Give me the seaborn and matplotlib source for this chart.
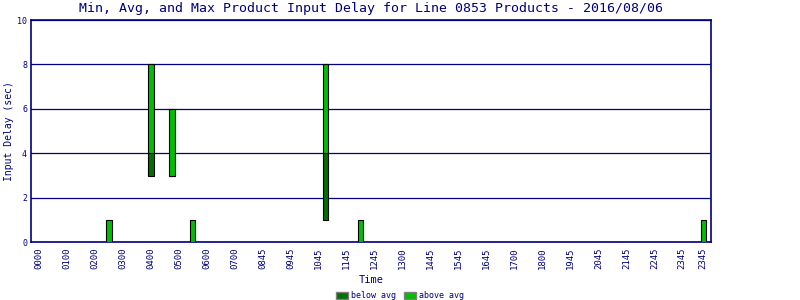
import matplotlib
matplotlib.use("Agg")
import matplotlib.pyplot as plt
import seaborn as sns
import numpy as np
from matplotlib.patches import Patch

# data
bar_times = ["0230", "0400", "0445", "0530", "1015", "1130", "2345"]
min_delay = [0, 3, 3, 0, 1, 0, 0]
avg_delay = [0, 4, 3, 0, 4, 0, 0]
max_delay = [1, 8, 6, 1, 8, 1, 1]
tick_labels = ["0000", "0100", "0200", "0300", "0400", "0500", "0600", "0700",
               "0845", "0945", "1045", "1145", "1245", "1300", "1445", "1545",
               "1645", "1700", "1800", "1945", "2045", "2145", "2245", "2345", "2345"]
tick_times = ["0000", "0100", "0200", "0300", "0400", "0500", "0600", "0700",
              "0800", "0900", "1000", "1100", "1200", "1300", "1400", "1500",
              "1600", "1700", "1800", "1900", "2000", "2100", "2200", "2300", "2345"]

def to_min(s):
    return int(s[:2]) * 60 + int(s[2:])

sns.set_style("white")
plt.rcParams['font.family'] = ['DejaVu Sans Mono', 'DejaVu Sans']

NAVY = "#000080"
DARK = "#007000"
LIGHT = "#00BE00"

fig = plt.figure(figsize=(8, 3), dpi=100)
ax = fig.add_axes([0.039, 0.193, 0.85, 0.74])

x = np.array([to_min(t) for t in bar_times])
mn = np.array(min_delay); av = np.array(avg_delay); mx = np.array(max_delay)
w = 11
ax.bar(x, av - mn, bottom=mn, width=w, color=DARK, edgecolor="black", linewidth=0.8, zorder=3)
ax.bar(x, mx - av, bottom=av, width=w, color=LIGHT, edgecolor="black", linewidth=0.8, zorder=3)

ax.set_xlim(-17, 1442)
ax.set_ylim(0, 10)
ax.set_yticks([0, 2, 4, 6, 8, 10])
ax.set_yticklabels(["0", "2", "4", "6", "8", "10"], fontsize=6, color=NAVY)
ax.yaxis.grid(True, color=NAVY, linewidth=0.9, zorder=1)
ax.set_xticks([to_min(t) for t in tick_times])
ax.set_xticklabels(tick_labels, rotation=90, fontsize=6.5, color=NAVY)
ax.tick_params(axis="y", length=0, pad=3)
ax.tick_params(axis="x", length=0, pad=4)
for s in ax.spines.values():
    s.set_color(NAVY)
    s.set_linewidth(1.2)

ax.set_title("Min, Avg, and Max Product Input Delay for Line 0853 Products - 2016/08/06",
             fontsize=9.5, color=NAVY, pad=6)
ax.set_ylabel("Input Delay (sec)", fontsize=7, color=NAVY, labelpad=2)
ax.yaxis.set_label_coords(-0.025, 0.5)
ax.set_xlabel("Time", fontsize=7.5, color=NAVY, labelpad=4)

handles = [Patch(facecolor=DARK, edgecolor="gray", label="below avg"),
           Patch(facecolor=LIGHT, edgecolor="gray", label="above avg")]
fig.legend(handles=handles, loc="lower center", bbox_to_anchor=(0.5, -0.025), ncol=2,
           frameon=False, fontsize=6, handlelength=1.4, handleheight=0.9,
           handletextpad=0.4, columnspacing=1.0, labelcolor=NAVY)

fig.savefig("out.png", dpi=100)
